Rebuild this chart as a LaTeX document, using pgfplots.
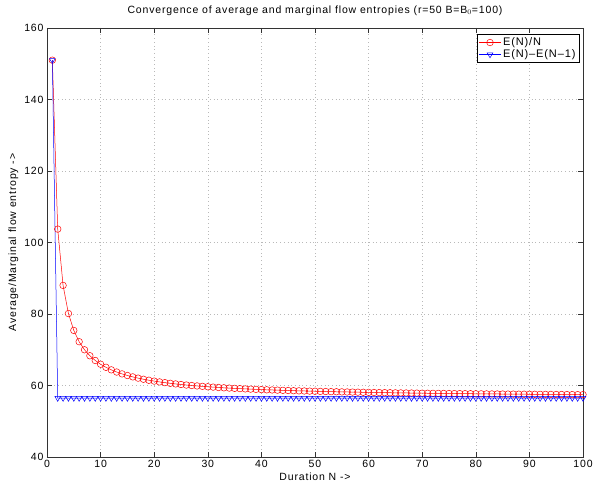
\documentclass[border=0pt]{standalone}
\usepackage{pgfplots}
\pgfplotsset{compat=1.18}
\usepackage{fontspec}
\setmainfont{Liberation Sans}[LetterSpace=8]
\begin{document}
\begin{tikzpicture}
\begin{axis}[
  name=ax,
  scale only axis,
  width=536pt, height=429pt,
  xmin=0, xmax=100, ymin=40, ymax=160,
  xtick={0,10,...,100}, ytick={40,60,...,160},
  tick align=inside,
  tick pos=both,
  major tick length=5pt,
  grid=major,
  major grid style={dash pattern=on 0.7pt off 3pt, gray!55, line width=0.5pt},
  axis line style={line width=0.8pt, black!80},
  tick style={black!80, line width=0.6pt},
  /pgf/number format/assume math mode=true,
  tick label style={font=\fontsize{10.5}{12}\selectfont},
  title={Convergence of average and marginal flow entropies (r=50 B=B$_0$=100)},
  title style={font=\fontsize{10.5}{12}\selectfont, at={(0.5,1)}, anchor=south, yshift=3pt},
  xlabel={Duration N ->},
  ylabel={Average/Marginal flow entropy  ->},
  label style={font=\fontsize{10.5}{12}\selectfont},
  xlabel style={yshift=2pt},
  ylabel style={yshift=-1pt},
  legend style={at={(0.993,0.986)}, anchor=north east, font=\fontsize{11}{13}\selectfont,
    draw=black, line width=0.6pt, inner sep=1.5pt, row sep=-1.5pt},
  legend image code/.code={\draw[mark repeat=2,mark phase=2] plot coordinates {(0cm,0cm) (0.38cm,0cm) (0.76cm,0cm)};},
  legend cell align=left,
  clip=false,
]
\addplot[red, line width=0.5pt, mark=o, mark size=3.3pt, mark options={solid, line width=0.5pt}] coordinates {
(1,151.00)(2,103.75)(3,88.00)(4,80.13)(5,75.40)(6,72.25)(7,69.99)(8,68.32)(9,67.00)(10,65.95)
(11,65.09)(12,64.38)(13,63.77)(14,63.25)(15,62.80)(16,62.41)(17,62.06)(18,61.75)(19,61.47)(20,61.23)
(21,61.00)(22,60.80)(23,60.61)(24,60.44)(25,60.28)(26,60.13)(27,60.00)(28,59.88)(29,59.76)(30,59.65)
(31,59.55)(32,59.45)(33,59.36)(34,59.28)(35,59.20)(36,59.13)(37,59.05)(38,58.99)(39,58.92)(40,58.86)
(41,58.80)(42,58.75)(43,58.70)(44,58.65)(45,58.60)(46,58.55)(47,58.51)(48,58.47)(49,58.43)(50,58.39)
(51,58.35)(52,58.32)(53,58.28)(54,58.25)(55,58.22)(56,58.19)(57,58.16)(58,58.13)(59,58.10)(60,58.08)
(61,58.05)(62,58.02)(63,58.00)(64,57.98)(65,57.95)(66,57.93)(67,57.91)(68,57.89)(69,57.87)(70,57.85)
(71,57.83)(72,57.81)(73,57.79)(74,57.78)(75,57.76)(76,57.74)(77,57.73)(78,57.71)(79,57.70)(80,57.68)
(81,57.67)(82,57.65)(83,57.64)(84,57.63)(85,57.61)(86,57.60)(87,57.59)(88,57.57)(89,57.56)(90,57.55)
(91,57.54)(92,57.53)(93,57.52)(94,57.51)(95,57.49)(96,57.48)(97,57.47)(98,57.46)(99,57.45)(100,57.45)
};
\addlegendentry{E(N)/N}
\addplot[blue, line width=0.5pt, mark=triangle, mark size=3.3pt, mark options={solid, rotate=180, line width=0.5pt}] coordinates {
(1,151.00)(2,56.5)(3,56.5)(4,56.5)(5,56.5)(6,56.5)(7,56.5)(8,56.5)(9,56.5)(10,56.5)
(11,56.5)(12,56.5)(13,56.5)(14,56.5)(15,56.5)(16,56.5)(17,56.5)(18,56.5)(19,56.5)(20,56.5)
(21,56.5)(22,56.5)(23,56.5)(24,56.5)(25,56.5)(26,56.5)(27,56.5)(28,56.5)(29,56.5)(30,56.5)
(31,56.5)(32,56.5)(33,56.5)(34,56.5)(35,56.5)(36,56.5)(37,56.5)(38,56.5)(39,56.5)(40,56.5)
(41,56.5)(42,56.5)(43,56.5)(44,56.5)(45,56.5)(46,56.5)(47,56.5)(48,56.5)(49,56.5)(50,56.5)
(51,56.5)(52,56.5)(53,56.5)(54,56.5)(55,56.5)(56,56.5)(57,56.5)(58,56.5)(59,56.5)(60,56.5)
(61,56.5)(62,56.5)(63,56.5)(64,56.5)(65,56.5)(66,56.5)(67,56.5)(68,56.5)(69,56.5)(70,56.5)
(71,56.5)(72,56.5)(73,56.5)(74,56.5)(75,56.5)(76,56.5)(77,56.5)(78,56.5)(79,56.5)(80,56.5)
(81,56.5)(82,56.5)(83,56.5)(84,56.5)(85,56.5)(86,56.5)(87,56.5)(88,56.5)(89,56.5)(90,56.5)
(91,56.5)(92,56.5)(93,56.5)(94,56.5)(95,56.5)(96,56.5)(97,56.5)(98,56.5)(99,56.5)(100,56.5)
};
\addlegendentry{E(N)--E(N--1)}
\end{axis}
\pgfresetboundingbox
\path ([xshift=-47pt,yshift=-33pt]ax.south west) rectangle ([xshift=11pt,yshift=28pt]ax.north east);
\end{tikzpicture}
\end{document}
